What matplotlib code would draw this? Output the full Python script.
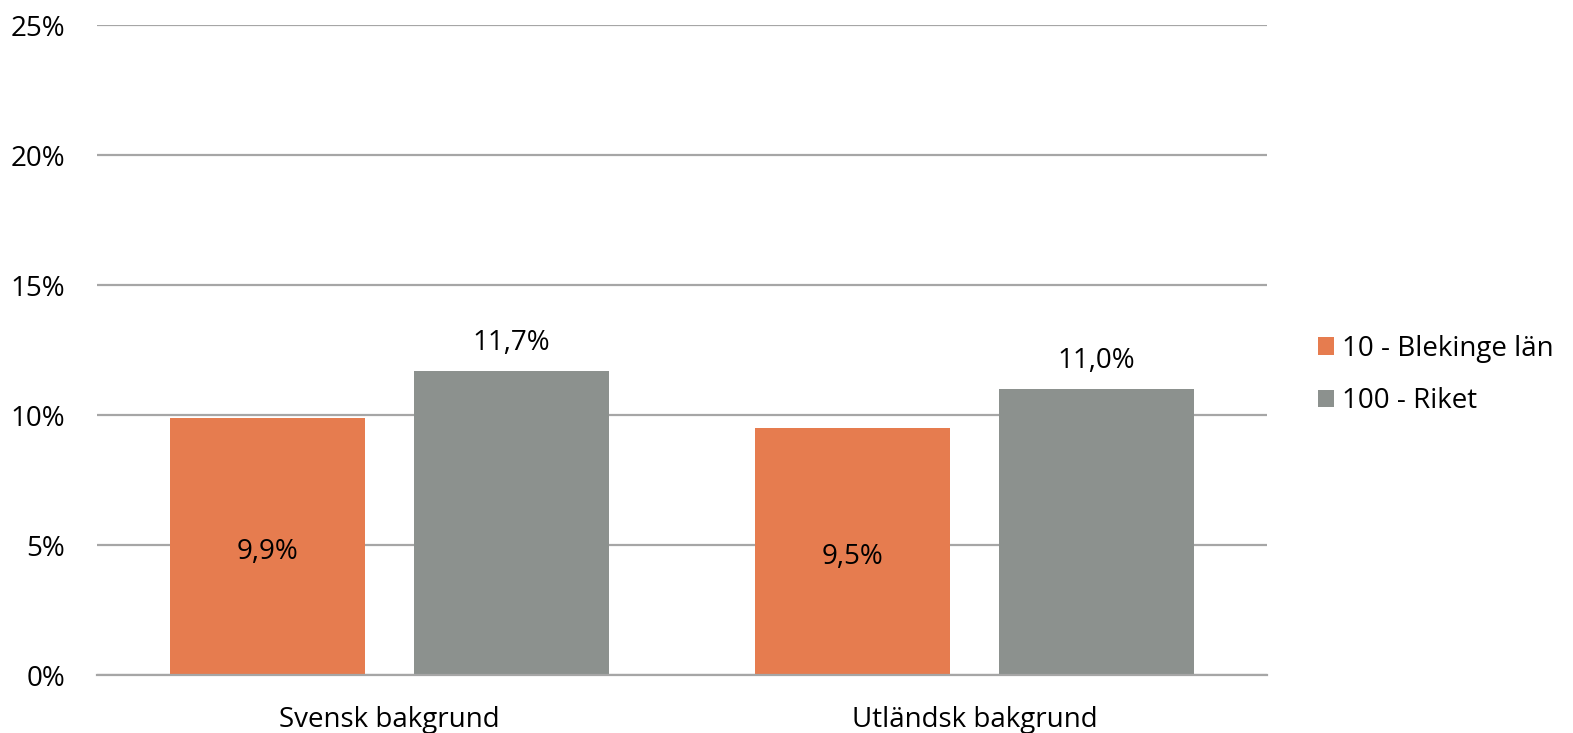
import matplotlib.pyplot as plt
import numpy as np

# chart data
categories = ['Svensk bakgrund', 'Utländsk bakgrund']
series_names = ['10 - Blekinge län', '100 - Riket']
blekinge = [9.9, 9.5]
riket = [11.7, 11.0]
yticks = [0, 5, 10, 15, 20, 25]

orange = '#E67C4F'
grey = '#8C918E'
gridc = '#A6A6A6'

plt.rcParams['font.family'] = ['Open Sans', 'DejaVu Sans']
fs = 20

W, H = 1573, 733
fig = plt.figure(figsize=(W / 100, H / 100), dpi=100)
ax = fig.add_axes([97 / W, (733 - 675) / H, (1267 - 97) / W, (675 - 25) / H])

x = np.arange(len(categories))
bw = 0.332
off = bw / 2 + 0.0425
b1 = ax.bar(x - off, blekinge, bw, color=orange, label=series_names[0], zorder=3)
b2 = ax.bar(x + off, riket, bw, color=grey, label=series_names[1], zorder=3)

# labels: inside for the county, above for the country
for rect, v in zip(b1, blekinge):
    ax.annotate(f'{v:.1f}%'.replace('.', ','), (rect.get_x() + rect.get_width() / 2, v / 2),
                xytext=(0, -4), textcoords='offset points',
                ha='center', va='center', fontsize=fs, color='black', zorder=4)
for rect, v in zip(b2, riket):
    ax.annotate(f'{v:.1f}%'.replace('.', ','), (rect.get_x() + rect.get_width() / 2, v),
                xytext=(0, 20), textcoords='offset points',
                ha='center', va='center', fontsize=fs, color='black')

ax.set_xlim(-0.5, len(categories) - 0.5)
ax.set_ylim(0, 25)
ax.set_yticks(yticks)
ax.set_yticklabels([f'{t}%' for t in yticks], fontsize=fs)
ax.set_xticks(x)
ax.set_xticklabels(categories, fontsize=fs)
ax.tick_params(axis='y', length=0, pad=23)
ax.tick_params(axis='x', length=0, pad=22)
ax.grid(axis='y', color=gridc, linewidth=1.6, zorder=0)
for s in ['left', 'right', 'top']:
    ax.spines[s].set_visible(False)
ax.spines['bottom'].set_color(gridc)
ax.spines['bottom'].set_linewidth(1.6)
ax.spines['bottom'].set_zorder(5)

fig.legend(handles=[b1, b2], loc='center left', bbox_to_anchor=(1318 / W, 1 - 375 / H),
           frameon=False, fontsize=fs, handlelength=0.58, handleheight=0.58,
           handletextpad=0.3, labelspacing=0.88, borderpad=0, borderaxespad=0)

fig.savefig('out.png', dpi=100)
